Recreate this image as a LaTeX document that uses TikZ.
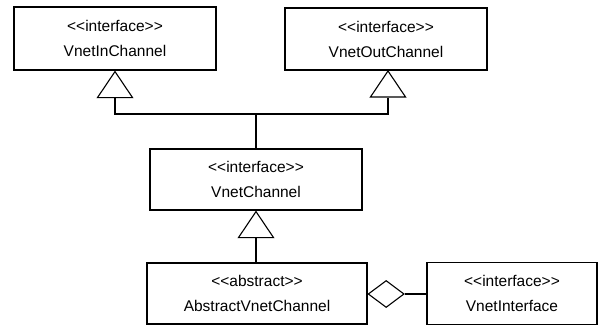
\documentclass[tikz,border=0pt]{standalone}
\usepackage{fontspec}
\setmainfont{Liberation Sans}
\usetikzlibrary{shapes.geometric}
\newcommand{\stereo}[1]{<\kern0pt<#1>\kern0pt>}
\begin{document}
\begin{tikzpicture}[x=1pt,y=-1pt,
  cls/.style={draw,line width=1.2pt,rectangle,inner sep=0pt,align=center,
    font=\fontsize{15.5}{25}\selectfont},
  gen/.style={draw,line width=1.1pt,fill=white,isosceles triangle,shape border rotate=90,
    isosceles triangle apex angle=70,minimum height=26pt,inner sep=0pt,minimum width=35pt,
    isosceles triangle stretches=true},
  agg/.style={draw,line width=1.1pt,fill=white,diamond,minimum width=36pt,minimum height=27pt,inner sep=0pt},
  ln/.style={line width=1.2pt}]
\useasboundingbox (0,0) rectangle (600,326);
\node[cls,minimum width=202pt,minimum height=63pt] (in) at (115,38.5) {\stereo{interface}\\VnetInChannel};
\node[cls,minimum width=202pt,minimum height=62pt] (out) at (386,39) {\stereo{interface}\\VnetOutChannel};
\node[cls,minimum width=212pt,minimum height=61pt] (ch) at (256,179.5) {\stereo{interface}\\VnetChannel};
\node[cls,minimum width=220pt,minimum height=61pt] (abs) at (257,293.5) {\stereo{abstract}\\AbstractVnetChannel};
\node[cls,minimum width=170pt,minimum height=62pt] (vi) at (512,293.5) {\stereo{interface}\\VnetInterface};
\node[gen,anchor=apex] (t1) at (in.south) {};
\node[gen,anchor=apex] (t2) at (388,70) {};
\node[gen,anchor=apex] (t3) at (ch.south) {};
\node[agg,anchor=west] (d) at (abs.east |- 0,294) {};
\coordinate (j) at (256,114);
\draw[ln] (t1.south) |- (j) -| (t2.south);
\draw[ln] (j) -- (ch.north);
\draw[ln] (t3.south) -- (t3.south |- abs.north);
\draw[ln] (d.east) -- (d.east -| vi.west);
\end{tikzpicture}
\end{document}
